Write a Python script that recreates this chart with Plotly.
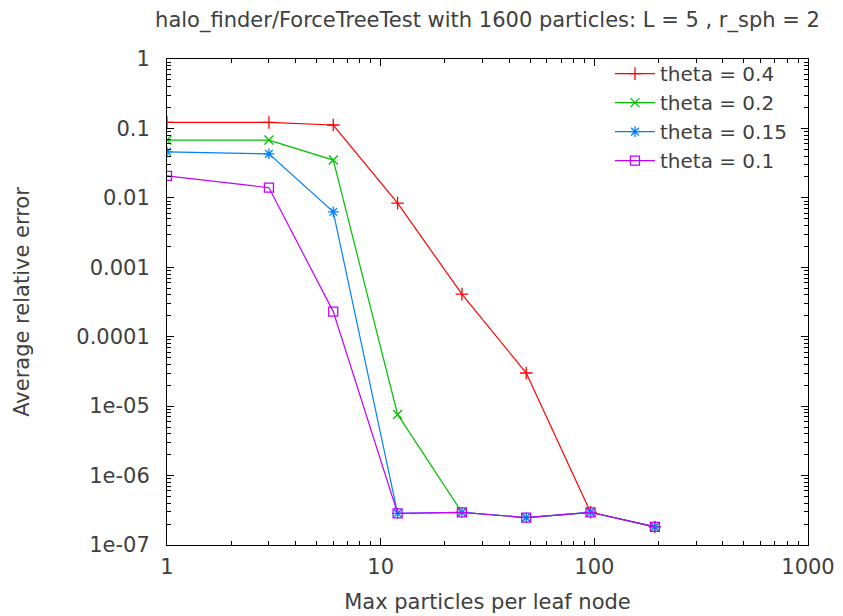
import plotly.graph_objects as go

# ---- data ----
max_particles = [1, 3, 6, 12, 24, 48, 96, 192]
err_theta_04 = [0.122, 0.122, 0.112, 0.0084, 0.00041, 3.0e-5, 2.96e-7, 1.82e-7]
err_theta_02 = [0.068, 0.068, 0.035, 7.6e-6, 2.96e-7, 2.48e-7, 2.96e-7, 1.82e-7]
err_theta_015 = [0.046, 0.043, 0.0063, 2.86e-7, 2.96e-7, 2.48e-7, 2.96e-7, 1.82e-7]
err_theta_01 = [0.0207, 0.014, 0.00023, 2.86e-7, 2.96e-7, 2.48e-7, 2.96e-7, 1.82e-7]

series_names = ["theta = 0.4", "theta = 0.2", "theta = 0.15", "theta = 0.1"]
series_values = [err_theta_04, err_theta_02, err_theta_015, err_theta_01]
series_colors = ["#ff0000", "#00c000", "#0080ff", "#c000ff"]
series_symbols = ["cross-thin-open", "x-thin-open", "asterisk-open", "square-open"]

y_tickvals = [1, 0.1, 0.01, 0.001, 0.0001, 1e-5, 1e-6, 1e-7]
y_ticktext = ["1", "0.1", "0.01", "0.001", "0.0001", "1e-05", "1e-06", "1e-07"]
x_tickvals = [1, 10, 100, 1000]
x_ticktext = ["1", "10", "100", "1000"]

FONT = "DejaVu Sans"
FS = 21
TXT = "#404040"

fig = go.Figure()
for name, vals, col, sym in zip(series_names, series_values, series_colors, series_symbols):
    fig.add_trace(go.Scatter(
        x=max_particles, y=vals, name=name, mode="lines+markers",
        line=dict(color=col, width=1.2),
        marker=dict(symbol=sym, size=9, color=col, line=dict(color=col, width=1.3)),
    ))

axis_common = dict(
    type="log", showline=True, mirror="allticks", linecolor="black", linewidth=1,
    ticks="inside", ticklen=7, tickcolor="black", showgrid=False, zeroline=False,
    tickfont=dict(family=FONT, size=FS, color=TXT),
    minor=dict(ticks="inside", ticklen=4, tickcolor="black", showgrid=False, dtick="D1"),
)

fig.update_layout(
    width=843, height=616,
    margin=dict(l=159, r=43, t=51, b=79),
    paper_bgcolor="white", plot_bgcolor="white",
    font=dict(family=FONT, size=FS, color=TXT),
    title=dict(text="halo_finder/ForceTreeTest with 1600 particles: L = 5 , r_sph = 2",
               x=0.5, xref="paper", xanchor="center", y=1 - 12 / 616, yanchor="middle",
               font=dict(family=FONT, size=FS, color=TXT)),
    xaxis=dict(axis_common, range=[0, 3], tickmode="array", tickvals=x_tickvals, ticktext=x_ticktext,
               ticklabelstandoff=3,
               title=dict(text="Max particles per leaf node", font=dict(family=FONT, size=FS, color=TXT),
                          standoff=16)),
    yaxis=dict(axis_common, range=[-7, 0], tickmode="array", tickvals=y_tickvals, ticktext=y_ticktext,
               ticklabelstandoff=12,
               title=dict(text="Average relative error", font=dict(family=FONT, size=FS, color=TXT),
                          standoff=40)),
    legend=dict(x=0.975, y=1.01, xanchor="right", yanchor="top", bgcolor="rgba(0,0,0,0)",
                font=dict(family=FONT, size=20, color=TXT), tracegroupgap=0, itemwidth=40),
    showlegend=True,
)

fig.write_html("out.html")
